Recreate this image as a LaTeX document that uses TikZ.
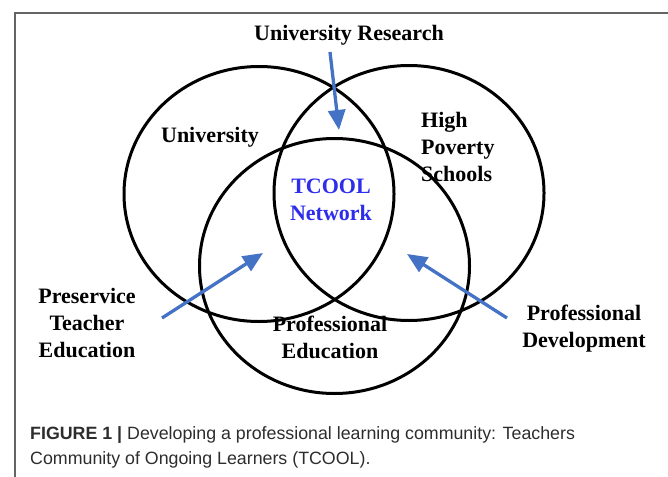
\documentclass[tikz,border=0pt]{standalone}
\usepackage{fontspec}
\setmainfont{Liberation Serif}
\newfontfamily\capfont{Liberation Sans}
\usetikzlibrary{positioning,shapes.geometric,arrows.meta}
\definecolor{arrowblue}{RGB}{68,114,196}
\definecolor{tcoolblue}{RGB}{45,45,235}
\definecolor{framegray}{RGB}{100,100,100}
\definecolor{capgray}{RGB}{45,45,45}
\tikzset{
  ring/.style={ellipse, draw=black, line width=3pt, minimum width=270pt, minimum height=255pt},
  lbl/.style={font=\fontsize{22}{27}\selectfont\bfseries, align=center, inner sep=0pt},
  feed/.style={draw=arrowblue, line width=3.3pt, -{Triangle[length=20pt,width=17pt]}},
}

\begin{document}
\begin{tikzpicture}[x=1pt, y=-1pt]
  \useasboundingbox (0,0) rectangle (668,476);
  % frame, open to the right and below
  \draw [framegray, line width=1.3pt] (15,490) -- (15,13) -- (680,13);

  % the three rings
  \node [ring] (univ)    at (259,194)   {};
  \node [ring] (poverty) at (409,193)   {};
  \node [ring] (profed)  at (334.5,266) {};

  % ring labels
  \node [lbl]                       at (210,137) (univlbl)   {University};
  \node [lbl, align=left, anchor=west] at (421,147) (povlbl) {High\\Poverty\\Schools};
  \node [lbl]                       at (330,337) (profedlbl) {Professional\\Education};
  \node [lbl, text=tcoolblue]       at (331,200) (tcool)     {TCOOL\\Network};

  % outside labels
  \node [lbl]                       at (349,35)  (research)   {University Research};
  \node [lbl]                       at (87,323)  (preservice) {Preservice\\Teacher\\Education};
  \node [lbl]                       at (584,329) (develop)    {Professional\\Development};

  % arrow ends
  \coordinate (res-tail) at (330,52);
  \coordinate (res-head) at (339,130);
  \coordinate (pre-tail) at (162,318);
  \coordinate (pre-head) at (263,253);
  \coordinate (dev-tail) at (507,318);
  \coordinate (dev-head) at (407,254);

  \draw [feed] (res-tail) -- (res-head);
  \draw [feed] (pre-tail) -- (pre-head);
  \draw [feed] (dev-tail) -- (dev-head);

  % caption
  \node [anchor=west, align=left, inner sep=0pt, text=capgray,
         font=\capfont\fontsize{17.8}{25}\selectfont] at (30,447) (caption)
        {\textbf{FIGURE 1 |} Developing a professional learning community: Teachers\\
         Community of Ongoing Learners (TCOOL).};
\end{tikzpicture}
\end{document}
